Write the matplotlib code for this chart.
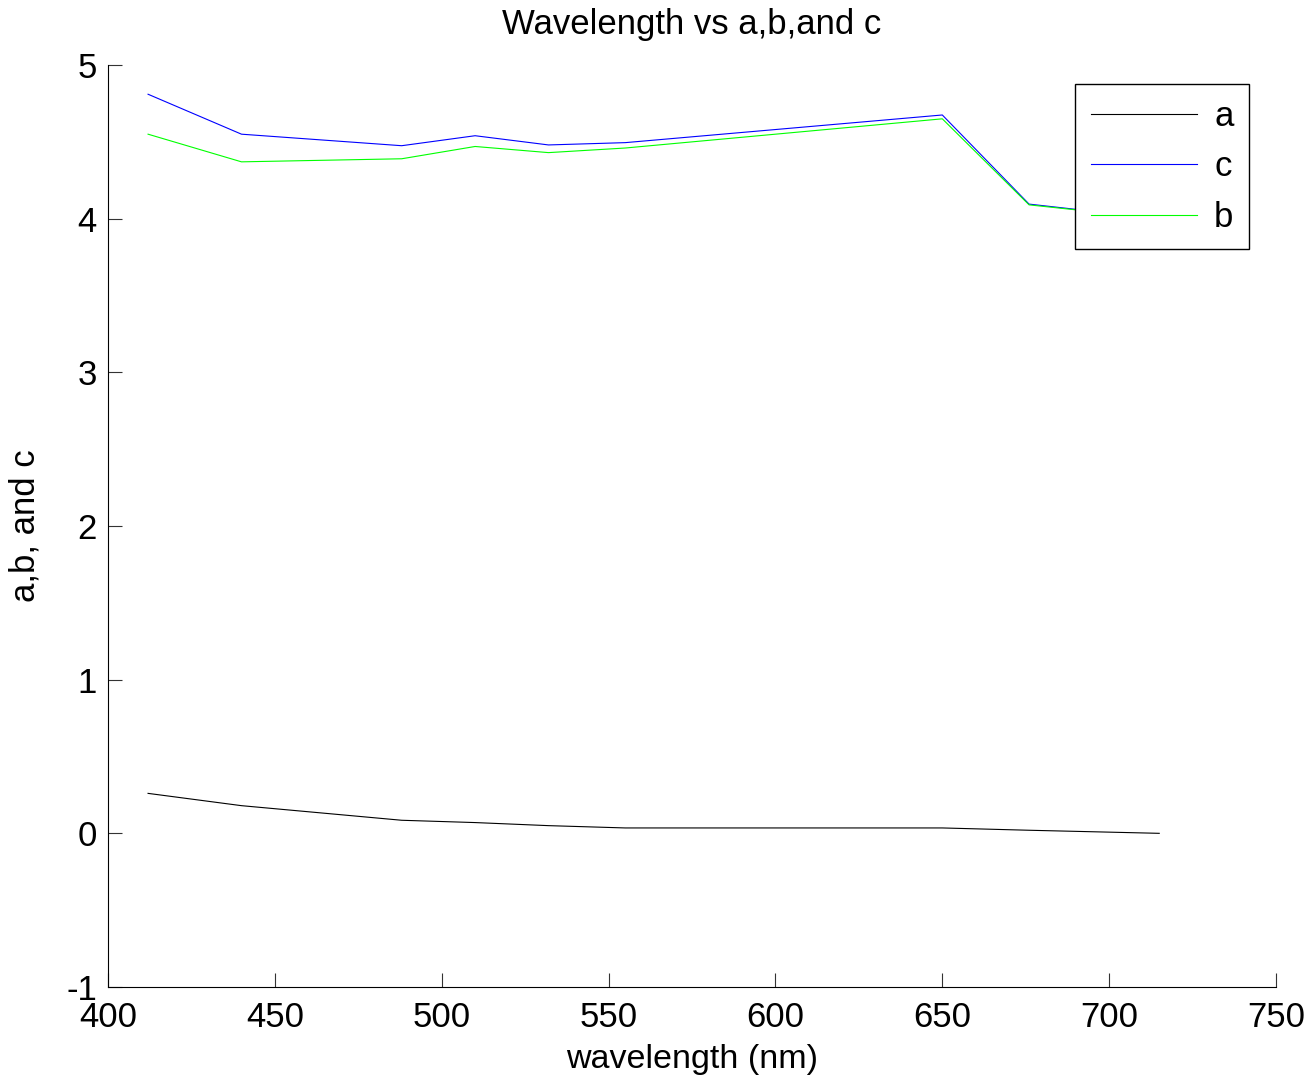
import matplotlib
matplotlib.use("Agg")
import matplotlib.pyplot as plt

# Measurement bands (nm)
wavelength = [412, 440, 488, 510, 532, 555, 650, 676, 715]
# Absorption (a), scattering (b) and attenuation (c)
a_vals = [0.26, 0.18, 0.085, 0.07, 0.05, 0.035, 0.035, 0.02, 0.0]
b_vals = [4.55, 4.37, 4.39, 4.47, 4.43, 4.46, 4.65, 4.09, 4.0]
c_vals = [4.81, 4.55, 4.475, 4.54, 4.48, 4.495, 4.675, 4.095, 4.0]

plt.rcParams['font.family'] = ['Liberation Sans', 'DejaVu Sans']
plt.rcParams['axes.unicode_minus'] = False

fig = plt.figure(figsize=(13.14, 10.84), dpi=100)
ax = fig.add_axes([0.0822, 0.0895, 0.8889, 0.8505])

ax.plot(wavelength, a_vals, color='black', lw=0.8, label='a')
ax.plot(wavelength, c_vals, color=(0, 0, 1), lw=0.8, label='c')
ax.plot(wavelength, b_vals, color=(0, 1, 0), lw=0.8, label='b')

ax.set_xlim(400, 750)
ax.set_ylim(-1, 5)
ax.set_xticks([400, 450, 500, 550, 600, 650, 700, 750])
ax.set_yticks([-1, 0, 1, 2, 3, 4, 5])

for side in ('top', 'right'):
    ax.spines[side].set_visible(False)
for side in ('left', 'bottom'):
    ax.spines[side].set_linewidth(0.8)
ax.tick_params(direction='in', length=10, width=0.8, labelsize=25,
               color='#333333')
ax.tick_params(axis='x', pad=10)
ax.tick_params(axis='y', pad=8)

ax.set_title('Wavelength vs a,b,and c', fontsize=25, pad=22)
ax.set_xlabel('wavelength (nm)', fontsize=24.5, labelpad=7)
ax.set_ylabel('a,b, and c', fontsize=25, labelpad=18)

leg = ax.legend(loc='upper right', bbox_to_anchor=(0.977, 0.979), fontsize=25,
                frameon=True, fancybox=False, edgecolor='black', framealpha=1,
                handlelength=3.05, handletextpad=0.5, labelspacing=0.5,
                borderpad=0.45, borderaxespad=0)
leg.get_frame().set_linewidth(1.0)

fig.savefig('out.png', dpi=100, facecolor='white')
